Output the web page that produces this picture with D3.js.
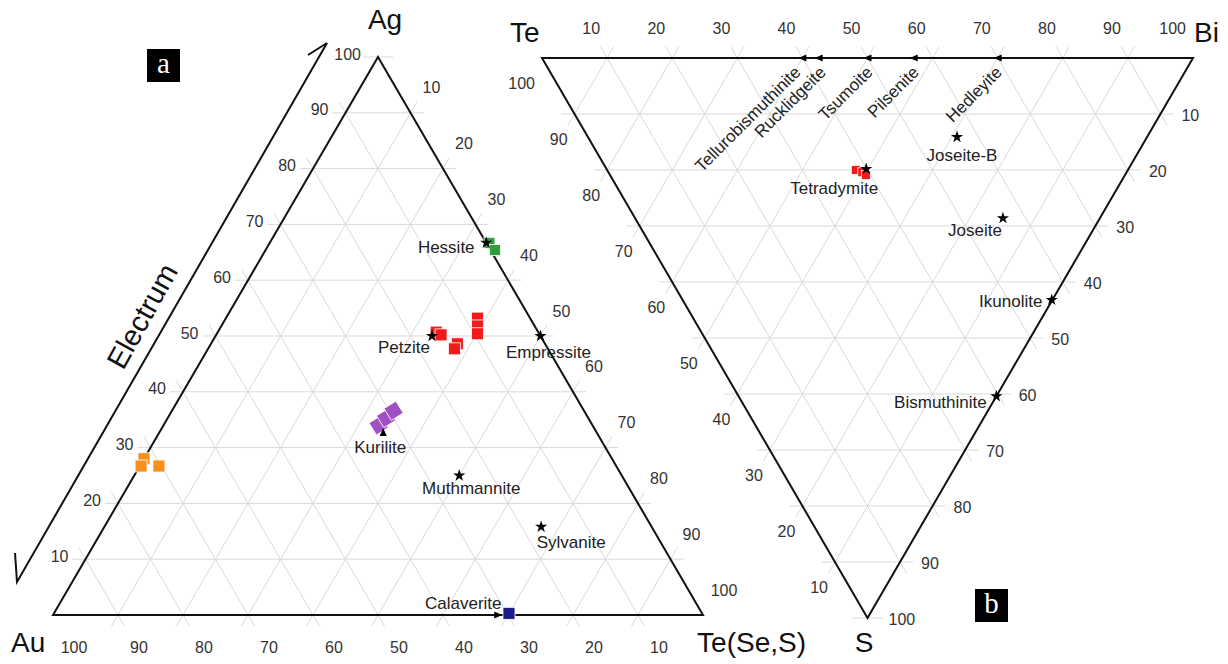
<!DOCTYPE html>
<html>
<head>
<meta charset="utf-8">
<script src="https://cdn.jsdelivr.net/npm/d3@7"></script>
<style>
  html, body { margin: 0; padding: 0; background: #fff; }
  svg { display: block; font-family: "Liberation Sans", Arial, sans-serif; }
  .grid { stroke: #d9d9d9; stroke-width: 1; fill: none; }
  .edge { stroke: #111; stroke-width: 2; fill: none; }
  .tick-label { font-size: 16px; fill: #333; }
  .corner { font-size: 28px; fill: #111; }
  .mineral { font-size: 17px; fill: #222; }
</style>
</head>
<body>
<div id="chart"></div>
<script>
const TICKS = d3.range(10, 101, 10)

// ── PANEL A: Au – Ag – Te(Se,S), at.% ──────────────────────────
const mineralsA = ['Hessite', 'Empressite', 'Petzite', 'Kurilite', 'Muthmannite', 'Sylvanite', 'Calaverite']
const mineralsAAg = [66.7, 50, 50, 32.8, 25, 15.8, 0]
const mineralsATe = [33.3, 50, 33.3, 34.4, 50, 67.2, 68.5]

const hessiteAg = [66.7, 65.4]
const hessiteTe = [33.8, 35.3]
const petziteAg = [50.7, 50.2, 48.6, 47.7, 53.2, 51.8, 50.4]
const petziteTe = [33.6, 34.6, 37.9, 37.9, 38.7, 39.4, 40.1]
const kuriliteAg = [34.0, 35.3, 36.6]
const kuriliteTe = [33.1, 33.6, 34.1]
const electrumAg = [28.0, 26.7, 26.7]
const electrumTe = [0, 0.2, 2.95]
const calaveriteAg = [0.3]
const calaveriteTe = [70]

// ── PANEL B: Te – Bi – S, at.% ─────────────────────────────────
const mineralsB = ['Tellurobismuthinite', 'Rucklidgeite', 'Tsumoite', 'Pilsenite', 'Hedleyite',
  'Tetradymite', 'Joseite-B', 'Joseite', 'Ikunolite', 'Bismuthinite']
const mineralsBBi = [40, 42.5, 50, 57.1, 70, 39.9, 56.7, 56.5, 56.7, 39.6]
const mineralsBS = [0, 0, 0, 0, 0, 19.8, 14.1, 28.6, 43.2, 60.4]

const tetradymiteBi = [38.2, 39.0, 39.3]
const tetradymiteS = [20.0, 20.4, 20.9]

// ── SETUP ──────────────────────────────────────────────────────
const width = 1228
const height = 664

const svg = d3.select('#chart')
  .append('svg')
  .attr('width', width)
  .attr('height', height)

const ax = d3.scaleLinear().domain([0, 100]).range([53, 703])
const ay = d3.scaleLinear().domain([0, 100]).range([615, 57])
const projA = (ag, te) => [ax(te + ag / 2), ay(ag)]

const bx = d3.scaleLinear().domain([0, 100]).range([542, 1193])
const by = d3.scaleLinear().domain([0, 100]).range([58, 618])
const projB = (bi, s) => [bx(bi + s / 2), by(s)]

function extended (p, q, ext) {
  const dx = q[0] - p[0], dy = q[1] - p[1]
  const len = Math.hypot(dx, dy)
  const ux = dx / len, uy = dy / len
  return [[p[0] - ux * ext, p[1] - uy * ext], [q[0] + ux * ext, q[1] + uy * ext]]
}

function drawGrid (g, segs, ext) {
  g.selectAll('line.grid')
    .data(segs.filter(s => Math.hypot(s[1][0] - s[0][0], s[1][1] - s[0][1]) > 1))
    .join('line')
    .attr('class', 'grid')
    .each(function (d) {
      const e = extended(d[0], d[1], ext)
      d3.select(this)
        .attr('x1', e[0][0]).attr('y1', e[0][1])
        .attr('x2', e[1][0]).attr('y2', e[1][1])
    })
}

// ── PANEL A GRID ───────────────────────────────────────────────
const gA = svg.append('g')
const segsA = []
TICKS.forEach(v => {
  segsA.push([projA(v, 0), projA(v, 100 - v)])       // Ag = v
  segsA.push([projA(0, v), projA(100 - v, v)])       // Te = v
  segsA.push([projA(0, 100 - v), projA(100 - v, 0)]) // Au = v
})
drawGrid(gA.append('g'), segsA, 13)
// tick through the apex (Ag = 100)
gA.append('line').attr('class', 'grid')
  .attr('x1', ax(50) - 15).attr('y1', ay(100))
  .attr('x2', ax(50) + 15).attr('y2', ay(100))

gA.append('path')
  .attr('class', 'edge')
  .attr('d', d3.line()([projA(0, 0), projA(100, 0), projA(0, 100)]) + 'Z')

// tick labels
gA.append('g').selectAll('text')
  .data(TICKS)
  .join('text')
  .attr('class', 'tick-label')
  .attr('text-anchor', 'end')
  .attr('x', v => projA(v, 0)[0] - 17)
  .attr('y', v => projA(v, 0)[1] - 3)
  .attr('dy', '0.35em')
  .text(v => v)

gA.append('g').selectAll('text')
  .data(TICKS)
  .join('text')
  .attr('class', 'tick-label')
  .attr('text-anchor', 'middle')
  .attr('x', v => projA(0, 100 - v)[0] + 21)
  .attr('y', v => projA(0, 100 - v)[1] + 32)
  .attr('dy', '0.35em')
  .text(v => v)

gA.append('g').selectAll('text')
  .data(TICKS)
  .join('text')
  .attr('class', 'tick-label')
  .attr('text-anchor', 'middle')
  .attr('x', v => projA(100 - v, v)[0] + 21)
  .attr('y', v => projA(100 - v, v)[1] - 25)
  .attr('dy', '0.35em')
  .text(v => v)

// corner labels
gA.append('text').attr('class', 'corner').attr('text-anchor', 'middle')
  .attr('x', ax(50) + 7).attr('y', 29).text('Ag')
gA.append('text').attr('class', 'corner').attr('text-anchor', 'start')
  .attr('x', 11).attr('y', 652).text('Au')
gA.append('text').attr('class', 'corner').attr('text-anchor', 'end')
  .attr('x', 806).attr('y', 652).text('Te(Se,S)')

// Electrum arrow
gA.append('path')
  .attr('fill', 'none')
  .attr('stroke', '#111')
  .attr('stroke-width', 2)
  .attr('d', 'M15,553 L17,582 L327,43 L308,55')

gA.append('text')
  .attr('transform', 'translate(142,316) rotate(-61)')
  .attr('text-anchor', 'middle')
  .attr('dy', '0.35em')
  .attr('font-size', 29)
  .attr('fill', '#111')
  .text('Electrum')

// panel tag
function panelTag (x, y, letter) {
  svg.append('rect').attr('x', x).attr('y', y).attr('width', 33).attr('height', 33).attr('fill', '#000')
  svg.append('text')
    .attr('x', x + 16.5).attr('y', y + 24)
    .attr('text-anchor', 'middle')
    .attr('font-family', '"Liberation Serif", "DejaVu Serif", serif')
    .attr('font-size', 29)
    .attr('fill', '#fff')
    .text(letter)
}
panelTag(147, 49, 'a')
panelTag(975, 589, 'b')

// analyses A
function squares (g, pts, color, size, rot) {
  g.selectAll(null)
    .data(pts)
    .join('rect')
    .attr('x', -size / 2).attr('y', -size / 2)
    .attr('width', size).attr('height', size)
    .attr('transform', d => `translate(${d[0]},${d[1]}) rotate(${rot || 0})`)
    .attr('fill', color)
    .attr('stroke', '#fff')
    .attr('stroke-width', 0.8)
}
const zipA = (ag, te) => ag.map((a, i) => projA(a, te[i]))
const zipB = (bi, s) => bi.map((b, i) => projB(b, s[i]))

squares(gA.append('g'), zipA(electrumAg, electrumTe), '#f7901e', 12)
squares(gA.append('g'), zipA(kuriliteAg, kuriliteTe), '#a050c4', 14, -32)
squares(gA.append('g'), zipA(petziteAg, petziteTe), '#f21a1a', 12)
squares(gA.append('g'), zipA(hessiteAg, hessiteTe), '#2f9e3f', 11)
squares(gA.append('g'), zipA(calaveriteAg, calaveriteTe), '#1d1a8a', 12)

// mineral markers
const star = d3.symbol().type(d3.symbolStar).size(46)
const arrowPath = { L: 'M-4,0 L4,-3.5 L4,3.5 Z', R: 'M4,0 L-4,-3.5 L-4,3.5 Z', U: 'M0,-4 L-3.5,4 L3.5,4 Z' }

const markerA = { Kurilite: 'U', Calaverite: 'R' }
const labelA = {
  Hessite: [-40, 4],
  Empressite: [8, 16],
  Petzite: [-28, 11],
  Kurilite: [-3, 15],
  Muthmannite: [12, 13],
  Sylvanite: [30, 15],
  Calaverite: [-35, -12]
}

const mA = gA.append('g').selectAll('g')
  .data(mineralsA.map((name, i) => ({ name, p: projA(mineralsAAg[i], mineralsATe[i]) })))
  .join('g')
  .attr('transform', d => `translate(${d.p[0]},${d.p[1]})`)
mA.append('path')
  .attr('d', d => markerA[d.name] ? arrowPath[markerA[d.name]] : star())
  .attr('fill', '#000')
mA.append('text')
  .attr('class', 'mineral')
  .attr('text-anchor', 'middle')
  .attr('x', d => labelA[d.name][0])
  .attr('y', d => labelA[d.name][1])
  .attr('dy', '0.35em')
  .text(d => d.name)

// ── PANEL B ────────────────────────────────────────────────────
const gB = svg.append('g')
const segsB = []
TICKS.forEach(v => {
  segsB.push([projB(0, v), projB(100 - v, v)])       // S = v
  segsB.push([projB(v, 0), projB(v, 100 - v)])       // Bi = v
  segsB.push([projB(100 - v, 0), projB(0, 100 - v)]) // Te = v
})
drawGrid(gB.append('g'), segsB, 13)
gB.append('line').attr('class', 'grid')
  .attr('x1', bx(50) - 15).attr('y1', by(100))
  .attr('x2', bx(50) + 15).attr('y2', by(100))

gB.append('path')
  .attr('class', 'edge')
  .attr('d', d3.line()([projB(0, 0), projB(100, 0), projB(0, 100)]) + 'Z')

gB.append('g').selectAll('text')
  .data(TICKS)
  .join('text')
  .attr('class', 'tick-label')
  .attr('text-anchor', 'end')
  .attr('x', v => projB(v, 0)[0] - 7)
  .attr('y', v => projB(v, 0)[1] - 30)
  .attr('dy', '0.35em')
  .text(v => v)

gB.append('g').selectAll('text')
  .data(TICKS)
  .join('text')
  .attr('class', 'tick-label')
  .attr('text-anchor', 'end')
  .attr('x', v => projB(0, 100 - v)[0] - 7)
  .attr('y', v => projB(0, 100 - v)[1] + 25)
  .attr('dy', '0.35em')
  .text(v => v)

gB.append('g').selectAll('text')
  .data(TICKS)
  .join('text')
  .attr('class', 'tick-label')
  .attr('text-anchor', 'start')
  .attr('x', v => projB(100 - v, v)[0] + 21)
  .attr('y', v => projB(100 - v, v)[1] + 1)
  .attr('dy', '0.35em')
  .text(v => v)

gB.append('text').attr('class', 'corner').attr('x', 510).attr('y', 42).text('Te')
gB.append('text').attr('class', 'corner').attr('x', 1194).attr('y', 42).text('Bi')
gB.append('text').attr('class', 'corner').attr('text-anchor', 'middle').attr('x', 864).attr('y', 652).text('S')

squares(gB.append('g'), zipB(tetradymiteBi, tetradymiteS), '#f21a1a', 9)

const labelB = {
  Tellurobismuthinite: [-5, 11],
  Rucklidgeite: [4, 11],
  Tsumoite: [2, 11],
  Pilsenite: [2, 11],
  Hedleyite: [1, 11],
  Tetradymite: [-32, 19],
  'Joseite-B': [5, 18],
  Joseite: [-28, 12],
  Ikunolite: [-41, 1],
  Bismuthinite: [-56, 6]
}

const mB = gB.append('g').selectAll('g')
  .data(mineralsB.map((name, i) => ({ name, s: mineralsBS[i], p: projB(mineralsBBi[i], mineralsBS[i]) })))
  .join('g')
  .attr('transform', d => `translate(${d.p[0]},${d.p[1]})`)
mB.append('path')
  .attr('d', d => d.s === 0 ? arrowPath.L : star())
  .attr('fill', '#000')
mB.filter(d => d.s === 0).append('text')
  .attr('class', 'mineral')
  .attr('text-anchor', 'end')
  .attr('transform', d => `translate(${labelB[d.name][0]},${labelB[d.name][1]}) rotate(-45)`)
  .attr('dy', '0.35em')
  .text(d => d.name)
mB.filter(d => d.s !== 0).append('text')
  .attr('class', 'mineral')
  .attr('text-anchor', 'middle')
  .attr('x', d => labelB[d.name][0])
  .attr('y', d => labelB[d.name][1])
  .attr('dy', '0.35em')
  .text(d => d.name)
</script>
</body>
</html>
